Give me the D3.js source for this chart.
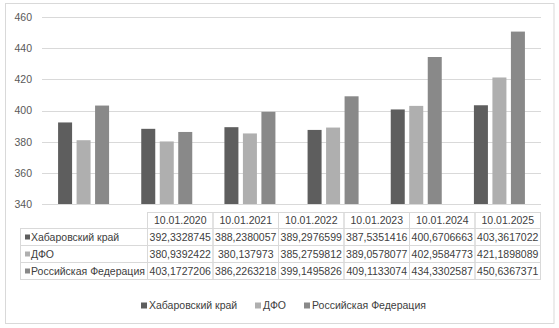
<!DOCTYPE html>
<html><head><meta charset="utf-8">
<script src="https://cdn.jsdelivr.net/npm/d3@7"></script>
<style>body{margin:0;background:#fff}svg{display:block}text{font-family:"Liberation Sans",Arial,sans-serif}</style>
</head><body>
<script>
const categories = ["10.01.2020","10.01.2021","10.01.2022","10.01.2023","10.01.2024","10.01.2025"];
const seriesNames = ["Хабаровский край","ДФО","Российская Федерация"];
const khabarovsk = [392.3328745,388.2380057,389.2976599,387.5351416,400.6706663,403.3617022];
const dfo = [380.9392422,380.137973,385.2759812,389.0578077,402.9584773,421.1898089];
const rf = [403.1727206,386.2263218,399.1495826,409.1133074,434.3302587,450.6367371];
const tableText = [
  ["392,3328745","388,2380057","389,2976599","387,5351416","400,6706663","403,3617022"],
  ["380,9392422","380,137973","385,2759812","389,0578077","402,9584773","421,1898089"],
  ["403,1727206","386,2263218","399,1495826","409,1133074","434,3302587","450,6367371"]
];
const yTicks = [340,360,380,400,420,440,460];
const colors = ["#5e5e5e","#afafaf","#898989"];
const seriesValues = [khabarovsk, dfo, rf];

const W=559,H=328;
const svg=d3.select("body").append("svg").attr("width",W).attr("height",H);
svg.append("rect").attr("x",5.5).attr("y",3.5).attr("width",548.5).attr("height",320).attr("fill","#fff").attr("stroke","#d9d9d9");

const plotL=42, plotR=541, plotT=17, plotB=204;
const y=d3.scaleLinear().domain([340,460]).range([plotB,plotT]);
const x0=d3.scaleBand().domain(categories).range([plotL,plotR]).padding(0);
const groupW=51;
const x1=d3.scaleBand().domain(d3.range(3)).range([-groupW/2,groupW/2]).paddingInner(0.243).paddingOuter(0);

// gridlines
svg.append("g").selectAll("line").data(yTicks).join("line")
  .attr("x1",plotL).attr("x2",plotR)
  .attr("y1",d=>Math.round(y(d))+0.5).attr("y2",d=>Math.round(y(d))+0.5)
  .attr("stroke","#d9d9d9").attr("stroke-width",1);

// y axis labels
const yAxis=d3.axisLeft(y).tickValues(yTicks).tickSize(0).tickPadding(0);
const ya=svg.append("g").attr("transform",`translate(${plotL-10},0)`).call(yAxis);
ya.select(".domain").remove();
ya.selectAll("text").attr("fill","#595959").style("font-size","10.5px").style("font-family","Liberation Sans, Arial, sans-serif");

// bars
const data=[];
categories.forEach((c,i)=>seriesValues.forEach((s,j)=>data.push({c,j,v:s[i]})));
svg.append("g").selectAll("rect").data(data).join("rect")
  .attr("x",d=>x0(d.c)+x0.bandwidth()/2+x1(d.j))
  .attr("width",x1.bandwidth())
  .attr("y",d=>y(d.v))
  .attr("height",d=>plotB-y(d.v))
  .attr("fill",d=>colors[d.j]);

// table
const tL=20.5, c0R=147.5, colW=(540.5-147.5)/6;
const rowsY=[212.5,228.5,245.5,262.5,279.5];
const tg=svg.append("g");
const stroke="#d9d9d9";
// header cells
categories.forEach((c,i)=>{
  tg.append("rect").attr("x",c0R+i*colW).attr("y",rowsY[0]).attr("width",colW).attr("height",rowsY[1]-rowsY[0]).attr("fill","none").attr("stroke",stroke);
  tg.append("text").attr("x",c0R+(i+0.5)*colW).attr("y",(rowsY[0]+rowsY[1])/2).attr("dy","0.35em").attr("text-anchor","middle").attr("fill","#404040").style("font-size","10.5px").text(c);
});
seriesNames.forEach((s,j)=>{
  const yt=rowsY[j+1], yb=rowsY[j+2];
  tg.append("rect").attr("x",tL).attr("y",yt).attr("width",c0R-tL).attr("height",yb-yt).attr("fill","none").attr("stroke",stroke);
  tg.append("rect").attr("x",25).attr("y",(yt+yb)/2-2.5).attr("width",5).attr("height",5).attr("fill",colors[j]);
  tg.append("text").attr("x",31).attr("y",(yt+yb)/2).attr("dy","0.35em").attr("fill","#404040").style("font-size","10.5px").text(s);
  categories.forEach((c,i)=>{
    tg.append("rect").attr("x",c0R+i*colW).attr("y",yt).attr("width",colW).attr("height",yb-yt).attr("fill","none").attr("stroke",stroke);
    tg.append("text").attr("x",c0R+(i+0.5)*colW).attr("y",(yt+yb)/2).attr("dy","0.35em").attr("text-anchor","middle").attr("fill","#404040").style("font-size","10.5px").text(tableText[j][i]);
  });
});

// legend
const legX=[141,255,304];
const lg=svg.append("g");
seriesNames.forEach((s,j)=>{
  lg.append("rect").attr("x",legX[j]).attr("y",302.5).attr("width",6).attr("height",6).attr("fill",colors[j]);
  lg.append("text").attr("x",legX[j]+8).attr("y",305.7).attr("dy","0.35em").attr("fill","#404040").style("font-size","10.5px").text(s);
});
</script>
</body></html>
